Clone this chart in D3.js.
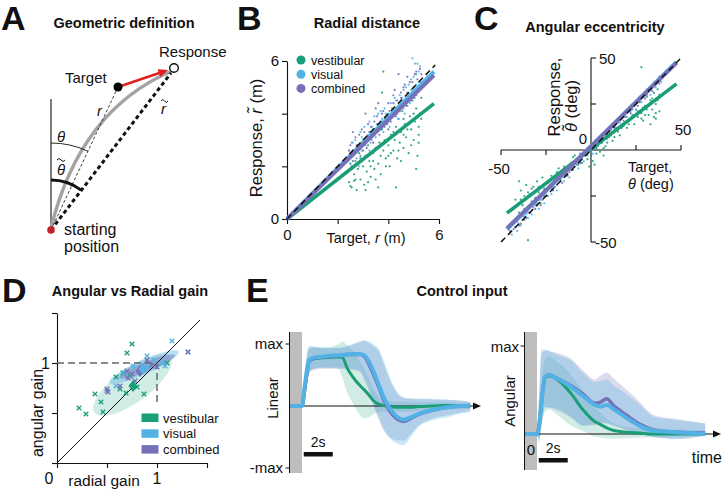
<!DOCTYPE html>
<html><head><meta charset="utf-8">
<script src="https://cdn.jsdelivr.net/npm/d3@7"></script>
<style>
body{margin:0;background:#fff}
text{font-family:"Liberation Sans",Arial,sans-serif;fill:#111}
.ttl{font-weight:bold;font-size:14.5px}
.lab{font-weight:bold;font-size:34px}
</style>
</head><body>
<svg id="c" width="723" height="491"></svg>
<script>
// ---------- colours ----------
const C_VEST = "#1a9e77", C_VIS = "#52b2e6", C_COMB = "#7570b8";
const seriesNames = ["vestibular","visual","combined"];
const seriesColors = [C_VEST, C_VIS, C_COMB];

// ---------- Panel A (schematic geometry, metres) ----------
const aStart = [0,0], aTarget = [1.675,3.575], aResp = [3.075,4.05], aCtrl = [0.725,3.0], aVertTop = 3.275;

// ---------- Panel B : radial distance ----------
const bTicks = [0,2,4,6];
const bSlopes = [0.755, 0.965, 0.94];
const bVest = [[2.45,1.4],[2.5,2.1],[2.55,1.2],[2.6,2.6],[2.65,1.7],[2.7,2.2],[2.75,1.1],[2.8,1.9],[2.85,2.5],[2.9,1.5],[2.95,2.9],[3.0,2.0],[3.05,1.3],[3.1,2.4],[3.15,1.8],[3.2,2.8],[3.25,2.2],[3.3,1.6],[3.35,3.1],[3.4,2.5],[3.45,1.9],[3.5,2.7],[3.55,3.3],[3.6,2.1],[3.65,2.9],[3.7,1.7],[3.75,3.4],[3.8,2.6],[3.85,3.0],[3.9,2.3],[3.95,3.6],[4.0,2.8],[4.05,2.0],[4.1,3.2],[4.15,3.9],[4.2,2.6],[4.25,3.0],[4.3,3.5],[4.35,2.3],[4.4,3.8],[4.45,2.9],[4.5,3.3],[4.55,4.1],[4.6,2.7],[4.65,3.6],[4.7,3.1],[4.75,4.3],[4.8,2.5],[4.85,3.9],[4.9,3.4],[4.95,4.5],[5.0,3.0],[5.05,3.7],[5.1,4.2],[5.15,2.4],[5.2,3.5],[5.25,4.0],[5.3,4.6],[5.1,1.9],[3.8,5.6],[3.75,4.8],[3.6,1.2],[4.3,1.2],[2.5,1.25],[2.65,1.45],[3.1,1.1],[3.3,2.0],[4.0,2.4],[4.6,3.2],[5.2,2.9],
  [2.4,1.8],[2.7,1.5],[2.9,2.3],[3.2,1.4],[3.4,2.2],[3.5,1.5],[3.7,2.4],[3.9,2.0],[4.1,2.5],[4.2,3.3],[4.4,2.6],[4.6,3.8],[4.75,3.4],[4.9,2.8],[5.0,4.0],[5.2,3.2],[5.3,3.8],[4.5,2.2],[3.0,2.6],[2.55,1.9]];
const bVis = [[2.45,2.6],[2.5,2.1],[2.55,2.9],[2.6,2.4],[2.7,3.0],[2.75,2.3],[2.8,2.8],[2.9,3.3],[2.95,2.6],[3.0,3.0],[3.05,3.5],[3.1,2.8],[3.2,3.2],[3.25,3.7],[3.3,2.9],[3.4,3.4],[3.45,3.9],[3.5,3.1],[3.55,3.6],[3.6,4.0],[3.7,3.4],[3.75,3.8],[3.8,3.3],[3.85,4.2],[3.9,3.7],[4.0,4.0],[4.05,3.5],[4.1,4.4],[4.2,3.9],[4.25,4.6],[4.3,4.1],[4.4,3.8],[4.45,4.7],[4.5,4.3],[4.6,4.9],[4.65,4.0],[4.7,4.6],[4.8,5.1],[4.85,4.4],[4.9,4.9],[5.0,5.4],[5.05,4.6],[5.1,5.1],[5.2,5.6],[4.95,6.1],[5.15,5.9],[3.35,3.0],[2.85,2.0],
  [2.4,2.2],[2.6,2.9],[2.75,2.6],[2.95,3.1],[3.15,3.0],[3.3,3.5],[3.45,3.2],[3.6,3.6],[3.7,4.1],[3.9,4.0],[4.0,3.7],[4.15,4.0],[4.3,4.5],[4.4,4.3],[4.55,4.6],[4.7,5.0],[4.8,4.6],[4.9,5.3],[5.0,4.8],[5.1,5.5],[5.2,5.2],[5.25,5.8],[3.25,2.6],[4.6,4.2],[5.05,5.9]];
const bComb = [[2.4,2.3],[2.5,2.8],[2.55,2.0],[2.65,2.5],[2.7,3.1],[2.8,2.6],[2.85,3.2],[2.9,2.4],[3.0,2.8],[3.05,3.3],[3.15,2.7],[3.2,3.6],[3.3,3.1],[3.35,3.5],[3.4,2.9],[3.5,3.4],[3.55,3.9],[3.65,3.2],[3.7,3.7],[3.8,4.1],[3.85,3.5],[3.95,3.9],[4.0,4.4],[4.1,3.7],[4.15,4.2],[4.2,4.7],[4.3,3.9],[4.35,4.5],[4.45,4.1],[4.5,4.8],[4.55,4.4],[4.65,5.1],[4.7,4.3],[4.75,4.8],[4.85,5.2],[4.9,4.5],[5.0,5.0],[5.05,5.5],[5.1,4.7],[5.15,5.3],[5.2,4.9],[5.25,5.7],[5.3,5.2],[3.1,4.0],[4.4,5.5],[2.6,3.3],[3.6,4.4],
  [2.45,2.6],[2.6,2.2],[2.75,2.8],[2.95,3.4],[3.1,3.0],[3.25,3.3],[3.45,3.7],[3.6,3.4],[3.75,4.0],[3.9,3.6],[4.05,4.1],[4.2,4.4],[4.35,4.0],[4.5,4.6],[4.6,5.0],[4.8,4.7],[4.95,5.2],[5.1,5.6],[5.25,5.0],[5.3,5.5],[3.5,4.2],[4.0,3.4],[4.25,4.9],[4.75,5.4],[5.0,4.6]];

// ---------- Panel C : angular eccentricity ----------
const cTicks = [-50,-25,25,50];
const cSlopes = [0.745, 0.965, 0.955];
const cIntercepts = [0.5, 2, 2];
const cVest = [[-42,-27],[-40,-34],[-39,-22],[-38,-30],[-37,-25],[-36,-19],[-35,-31],[-34,-24],[-33,-28],[-32,-20],[-31,-26],[-30,-17],[-29,-23],[-28,-29],[-27,-15],[-26,-21],[-24,-18],[-22,-14],[-21,-20],[-19,-12],[-17,-16],[-15,-9],[-12,-11],[-10,-4],[-8,-8],[-6,-2],[-5,-7],[-3,-1],[-2,-5],[-1,2],[0,-3],[1,-6],[2,0],[3,-2],[4,3],[5,-1],[6,4],[8,2],[10,7],[12,5],[14,11],[16,8],[18,13],[20,12],[22,17],[24,14],[25,22],[26,18],[27,26],[28,20],[29,16],[30,24],[31,29],[32,19],[33,27],[34,22],[35,31],[36,25],[37,33],[38,21],[28,45],[-35,-49],[-1,-9],[2,-8],[7,-3],[33,14],[36,17],[-40,-17],
  [-41,-30],[-39,-27],[-37,-32],[-35,-23],[-33,-21],[-31,-29],[-29,-20],[-26,-25],[-23,-17],[-20,-16],[-18,-10],[-14,-12],[-11,-7],[-9,-3],[-7,-5],[-4,-3],[-2,1],[1,3],[3,1],[5,5],[7,1],[9,4],[11,8],[13,7],[15,10],[17,12],[19,15],[21,14],[23,19],[26,21],[28,17],[30,19],[32,24],[34,28],[36,20],[37,27],[38,30],[35,18],[31,22],[29,23]];
const cVis = [[-44,-46],[-43,-40],[-41,-44],[-40,-37],[-39,-41],[-37,-36],[-35,-37],[-34,-31],[-33,-35],[-30,-29],[-29,-32],[-27,-25],[-26,-29],[-24,-21],[-22,-24],[-20,-18],[-19,-22],[-17,-14],[-15,-17],[-13,-11],[-12,-15],[-9,-7],[-7,-10],[-5,-3],[-4,-6],[-1,1],[1,-2],[3,5],[4,2],[7,9],[9,6],[11,13],[12,10],[15,17],[17,14],[19,21],[20,18],[23,25],[25,22],[27,29],[28,26],[31,33],[33,30],[35,37],[36,34],[38,40],[39,37],
  [-42,-42],[-38,-38],[-36,-35],[-31,-30],[-28,-27],[-25,-25],[-21,-20],[-16,-15],[-14,-14],[-10,-10],[-8,-7],[-6,-6],[-2,-2],[0,0],[2,1],[5,5],[6,7],[8,8],[10,10],[13,14],[16,15],[18,18],[21,22],[22,21],[24,24],[26,27],[29,29],[30,31],[32,32],[34,34],[37,38]];
const cComb = [[-45,-44],[-42,-42],[-41,-39],[-39,-40],[-38,-36],[-36,-37],[-34,-34],[-33,-30],[-31,-32],[-29,-27],[-28,-30],[-26,-24],[-24,-25],[-23,-20],[-21,-22],[-19,-19],[-18,-16],[-16,-18],[-14,-13],[-12,-12],[-10,-11],[-8,-6],[-6,-7],[-4,-3],[-2,-3],[0,1],[2,0],[4,5],[6,4],[8,9],[10,8],[12,13],[14,12],[16,17],[18,16],[20,21],[22,20],[24,25],[26,24],[28,29],[30,28],[32,33],[34,32],[35,35],[37,38],[38,36],
  [-43,-43],[-40,-41],[-37,-38],[-35,-34],[-32,-31],[-30,-30],[-27,-27],[-25,-23],[-22,-21],[-20,-20],[-17,-17],[-15,-14],[-13,-14],[-11,-9],[-9,-9],[-7,-8],[-5,-5],[-3,-2],[-1,-1],[1,2],[3,3],[5,6],[7,6],[9,10],[11,11],[13,12],[15,15],[17,18],[19,18],[21,21],[23,22],[25,26],[27,27],[29,30],[31,30],[33,34],[36,36]];

// ---------- Panel D : angular vs radial gain ----------
const dTicks = [0,0.5,1,1.5];
const dVest = [[0.22,0.55],[0.29,0.49],[0.38,0.69],[0.44,0.61],[0.46,0.51],[0.59,0.86],[0.63,0.74],[0.69,0.70],[0.70,1.10],[0.75,1.19],[0.80,0.76],[0.87,0.69],[1.10,1.00],[0.73,0.87],[0.66,0.90]];
const dVis = [[1.15,1.22],[0.90,1.07],[0.76,0.97],[0.67,0.90],[0.59,0.77],[1.05,1.00],[1.08,0.97],[0.97,1.03],[0.50,0.72],[0.91,0.96],[1.31,1.11]];
const dComb = [[1.31,1.11],[0.50,0.74],[0.51,0.71],[0.70,0.92],[0.75,0.89],[0.71,0.85],[0.78,0.82],[0.63,0.77],[0.90,1.03],[1.00,0.96],[0.95,0.98]];
const dMeans = [[0.76,0.77],[0.86,0.94],[0.83,0.92]];
const dEllCenter = [[0.755,0.78],[0.87,0.96],[0.9,0.965]];
const dEllRadii = [[0.47,0.17],[0.38,0.07],[0.30,0.05]];
const dEllAngle = [36,24,22];

// ---------- Panel E : control input ----------
const tLin = [-0.8,0,0.2,0.5,0.8,1.5,2.5,2.8,3.1,3.5,4.0,4.3,4.6,5.0,5.3,5.6,6.0,6.5,7.0,7.5,8.0,9.0,10.0,11.0,11.6];
const linVis  = [0,0,0.35,0.74,0.78,0.80,0.82,0.82,0.83,0.84,0.84,0.82,0.72,0.52,0.34,0.16,-0.02,-0.16,-0.22,-0.18,-0.13,-0.06,-0.02,0.0,0.01];
const linComb = [0,0,0.30,0.72,0.77,0.79,0.81,0.82,0.83,0.83,0.83,0.80,0.68,0.47,0.30,0.12,-0.06,-0.20,-0.25,-0.20,-0.14,-0.07,-0.02,0.0,0.01];
const linVest = [0,0,0.30,0.72,0.76,0.78,0.79,0.78,0.62,0.47,0.33,0.26,0.18,0.07,0.03,0.01,-0.01,-0.02,-0.02,-0.02,-0.01,0,0.01,0,0];
const linVisHi  = [0,0.03,0.6,0.97,0.96,0.95,0.94,0.95,0.97,1.0,1.05,1.06,1.04,0.98,0.92,0.75,0.5,0.25,0.14,0.12,0.12,0.11,0.1,0.08,0.06];
const linVisLo  = [0,-0.03,0.1,0.55,0.6,0.62,0.62,0.62,0.61,0.6,0.58,0.45,0.3,0.0,-0.18,-0.35,-0.5,-0.6,-0.63,-0.5,-0.35,-0.23,-0.18,-0.12,-0.1];
const linCombHi = [0,0.03,0.55,0.93,0.94,0.93,0.93,0.94,0.96,0.99,1.03,1.05,1.02,0.95,0.88,0.7,0.45,0.22,0.13,0.12,0.11,0.11,0.1,0.09,0.07];
const linCombLo = [0,-0.03,0.08,0.52,0.58,0.6,0.6,0.6,0.6,0.58,0.55,0.42,0.25,-0.05,-0.22,-0.38,-0.5,-0.55,-0.56,-0.45,-0.32,-0.2,-0.15,-0.1,-0.08];
const linVestHi = [0,0.02,0.5,0.92,0.95,0.93,1.0,1.04,0.98,0.9,0.72,0.6,0.45,0.25,0.15,0.1,0.08,0.07,0.07,0.06,0.06,0.06,0.06,0.05,0.05];
const linVestLo = [0,-0.02,0.1,0.55,0.6,0.62,0.6,0.45,0.22,0.05,-0.15,-0.2,-0.18,-0.12,-0.1,-0.09,-0.09,-0.09,-0.1,-0.09,-0.08,-0.07,-0.06,-0.05,-0.05];

const tAng = [-0.8,0,0.15,0.3,0.55,0.8,1.4,2.3,3.2,4.0,4.35,4.8,5.3,6.2,7.1,8.0,9.6,11.6];
const angVis  = [0,0,0.1,0.35,0.65,0.67,0.63,0.54,0.43,0.33,0.31,0.33,0.28,0.18,0.09,0.04,0.02,0];
const angComb = [0,0,0.1,0.34,0.64,0.67,0.63,0.55,0.45,0.35,0.36,0.40,0.32,0.21,0.11,0.05,0.02,0.01];
const angVest = [0,0,0.1,0.35,0.65,0.66,0.62,0.47,0.27,0.14,0.11,0.07,0.04,0.02,0.01,0,0,0];
const angVisHi  = [0,0.02,0.5,0.96,0.96,0.95,0.9,0.84,0.69,0.59,0.6,0.62,0.55,0.45,0.33,0.2,0.16,0.12];
const angVisLo  = [0,-0.02,-0.1,0.09,0.31,0.3,0.29,0.2,0.09,0.12,0.14,0.13,0.1,0.05,0.0,-0.03,-0.06,-0.02];
const angCombHi = [0,0.02,0.45,0.9,0.95,0.94,0.92,0.86,0.72,0.62,0.66,0.7,0.63,0.5,0.36,0.22,0.17,0.12];
const angCombLo = [0,-0.02,-0.05,0.1,0.3,0.3,0.27,0.19,0.1,0.1,0.12,0.12,0.09,0.04,0.0,-0.03,-0.05,-0.02];
const angVestHi = [0,0.02,0.3,0.6,0.85,0.88,0.82,0.68,0.48,0.3,0.25,0.18,0.12,0.08,0.06,0.05,0.05,0.04];
const angVestLo = [0,-0.02,-0.05,0.1,0.25,0.28,0.22,0.1,0.03,-0.03,-0.04,-0.05,-0.05,-0.05,-0.04,-0.04,-0.03,-0.02];

// =====================================================
const svg = d3.select("#c");
svg.append("rect").attr("width",723).attr("height",491).attr("fill","#fff");

function T(x,y,s,o={}){
  const t = svg.append("text").attr("x",x).attr("y",y).text(s)
    .attr("font-size",o.size||14).attr("text-anchor",o.anchor||"start");
  if(o.bold) t.attr("font-weight","bold");
  if(o.italic) t.attr("font-style","italic");
  if(o.rot) t.attr("x",0).attr("y",0).attr("transform",`translate(${x},${y}) rotate(${o.rot})`);
  if(o.cls) t.attr("class",o.cls);
  return t;
}
function tilde(x,y,w){
  svg.append("path").attr("d",`M${x},${y+1}q${w/4},-3 ${w/2},0t${w/2},0`).attr("fill","none").attr("stroke","#111").attr("stroke-width",1);
}
function styleAxis(g, fs){
  g.selectAll("path,line").attr("stroke","#111").attr("stroke-width",1.1);
  g.selectAll("text").attr("font-size",fs).attr("fill","#111").attr("font-family","Liberation Sans, Arial, sans-serif");
}

// Panel letters & titles
T(1,30,"A",{cls:"lab"}); T(237,30,"B",{cls:"lab"}); T(474,30,"C",{cls:"lab"});
T(2,302,"D",{cls:"lab"}); T(246,302,"E",{cls:"lab"});
T(124,28,"Geometric definition",{cls:"ttl",anchor:"middle"});
T(367,28,"Radial distance",{cls:"ttl",anchor:"middle"});
T(595,32,"Angular eccentricity",{cls:"ttl",anchor:"middle"});
T(130,296,"Angular vs Radial gain",{cls:"ttl",anchor:"middle"});
T(462,296,"Control input",{cls:"ttl",anchor:"middle"});

// ================= Panel A =================
{
  const ax = d3.scaleLinear([0,1],[51,91]);
  const ay = d3.scaleLinear([0,1],[230,190]);
  const P = p => [ax(p[0]), ay(p[1])];
  const s=P(aStart), tg=P(aTarget), rs=P(aResp), cp=P(aCtrl);
  const g = svg.append("g");
  g.append("line").attr("x1",s[0]).attr("y1",s[1]).attr("x2",s[0]).attr("y2",ay(aVertTop)).attr("stroke","#111").attr("stroke-width",1.1);
  const gp = d3.path(); gp.moveTo(s[0],s[1]-2); gp.quadraticCurveTo(cp[0],cp[1],rs[0]-2,rs[1]+3);
  g.append("path").attr("d",gp.toString()).attr("fill","none").attr("stroke","#a3a3a3").attr("stroke-width",3.5);
  g.append("line").attr("x1",s[0]).attr("y1",s[1]).attr("x2",tg[0]).attr("y2",tg[1]).attr("stroke","#111").attr("stroke-width",0.8).attr("stroke-dasharray","3,2");
  g.append("line").attr("x1",s[0]).attr("y1",s[1]).attr("x2",rs[0]-3).attr("y2",rs[1]+5).attr("stroke","#111").attr("stroke-width",3).attr("stroke-dasharray","4,3");
  const angT = Math.atan2(tg[1]-s[1], tg[0]-s[0]);
  const angR = Math.atan2(rs[1]-s[1], rs[0]-s[0]);
  const a1 = d3.path(); a1.arc(s[0],s[1],87,-Math.PI/2,angT,false);
  g.append("path").attr("d",a1.toString()).attr("fill","none").attr("stroke","#111").attr("stroke-width",0.9);
  const a2 = d3.path(); a2.arc(s[0],s[1],50,-Math.PI/2,angR,false);
  g.append("path").attr("d",a2.toString()).attr("fill","none").attr("stroke","#111").attr("stroke-width",3);
  const dx = rs[0]-tg[0], dy = rs[1]-tg[1], L = Math.hypot(dx,dy), ux=dx/L, uy=dy/L;
  const tip = [rs[0]-ux*6, rs[1]-uy*6];
  g.append("line").attr("x1",tg[0]).attr("y1",tg[1]).attr("x2",tip[0]-ux*8).attr("y2",tip[1]-uy*8).attr("stroke","#e02020").attr("stroke-width",2.5);
  g.append("polygon").attr("points",[[tip[0],tip[1]],[tip[0]-ux*10-uy*4,tip[1]-uy*10+ux*4],[tip[0]-ux*10+uy*4,tip[1]-uy*10-ux*4]].map(p=>p.join(",")).join(" ")).attr("fill","#e02020");
  g.append("circle").attr("cx",tg[0]).attr("cy",tg[1]).attr("r",4.5).attr("fill","#000");
  g.append("circle").attr("cx",rs[0]).attr("cy",rs[1]).attr("r",4.3).attr("fill","#fff").attr("stroke","#111").attr("stroke-width",1.4);
  g.append("circle").attr("cx",s[0]).attr("cy",s[1]).attr("r",3.8).attr("fill","#c4212d");
  T(65,83,"Target",{size:15});
  T(159,57,"Response",{size:15});
  T(97,116,"r",{size:15,italic:true});
  T(161,114,"r",{size:15,italic:true});
  tilde(161,100,7);
  T(57,142,"θ",{size:15,italic:true});
  T(57,175,"θ",{size:15,italic:true});
  tilde(57,159,8);
  T(64,235,"starting",{size:16});
  T(64,252,"position",{size:16});
}

// ================= Panel B =================
{
  const x = d3.scaleLinear([0,6],[287,439]);
  const y = d3.scaleLinear([0,6],[219,61]);
  const gx = svg.append("g").attr("transform","translate(0,219)")
    .call(d3.axisBottom(x).tickValues(bTicks).tickSize(5).tickSizeOuter(0).tickPadding(5).tickFormat(d=>(d===0||d===6)?d:""));
  const gy = svg.append("g").attr("transform","translate(287,0)")
    .call(d3.axisLeft(y).tickValues(bTicks).tickSize(5).tickSizeOuter(0).tickPadding(3).tickFormat(d=>(d===0||d===6)?d:""));
  styleAxis(gx,15); styleAxis(gy,15);
  const pts = [bVest,bVis,bComb];
  pts.forEach((arr,i)=>{
    svg.append("g").selectAll("circle").data(arr).join("circle")
      .attr("cx",d=>x(d[0])).attr("cy",d=>y(d[1])).attr("r",1.1).attr("fill",seriesColors[i]).attr("opacity",0.9);
  });
  const line = d3.line().x(d=>x(d[0])).y(d=>y(d[1]));
  const xr = [0,5.8];
  bSlopes.forEach((m,i)=>{
    svg.append("path").attr("d",line(xr.map(v=>[v,m*v]))).attr("stroke",seriesColors[i]).attr("stroke-width",i===0?3.5:4).attr("fill","none");
  });
  svg.append("path").attr("d",line([[0,0],[5.85,5.85]])).attr("stroke","#111").attr("stroke-width",1.5).attr("stroke-dasharray","6,4").attr("fill","none");
  seriesNames.forEach((n,i)=>{
    const yy = 60 + i*14.2;
    svg.append("circle").attr("cx",301).attr("cy",yy).attr("r",4.5).attr("fill",seriesColors[i]);
    T(311,yy+4.5,n,{size:12.5});
  });
  const yl = svg.append("text").attr("transform","translate(262,138) rotate(-90)").attr("text-anchor","middle").attr("font-size",16.5);
  yl.append("tspan").text("Response, ");
  yl.append("tspan").attr("font-style","italic").text("r\u0303");
  yl.append("tspan").text(" (m)");
  const xl = svg.append("text").attr("x",366).attr("y",243).attr("text-anchor","middle").attr("font-size",14.5);
  xl.append("tspan").text("Target, ");
  xl.append("tspan").attr("font-style","italic").text("r");
  xl.append("tspan").text(" (m)");
}

// ================= Panel C =================
{
  const x = d3.scaleLinear([-50,50],[501,681]);
  const y = d3.scaleLinear([-50,50],[242,58]);
  const g = svg.append("g");
  g.append("line").attr("x1",x(-50)).attr("x2",x(50)).attr("y1",y(0)).attr("y2",y(0)).attr("stroke","#111").attr("stroke-width",1.1);
  g.append("line").attr("x1",x(0)).attr("x2",x(0)).attr("y1",y(-50)).attr("y2",y(50)).attr("stroke","#111").attr("stroke-width",1.1);
  cTicks.forEach(v=>{
    g.append("line").attr("x1",x(v)).attr("x2",x(v)).attr("y1",y(0)).attr("y2",y(0)+(v<0?5:-5)).attr("stroke","#111").attr("stroke-width",1.1);
    g.append("line").attr("x1",x(0)).attr("x2",x(0)+5).attr("y1",y(v)).attr("y2",y(v)).attr("stroke","#111").attr("stroke-width",1.1);
  });
  const pts = [cVest,cVis,cComb];
  pts.forEach((arr,i)=>{
    svg.append("g").selectAll("circle").data(arr).join("circle")
      .attr("cx",d=>x(d[0])).attr("cy",d=>y(d[1])).attr("r",1.1).attr("fill",seriesColors[i]).attr("opacity",0.9);
  });
  const line = d3.line().x(d=>x(d[0])).y(d=>y(d[1]));
  const xr = [-46.7,47.5];
  cSlopes.forEach((m,i)=>{
    svg.append("path").attr("d",line(xr.map(v=>[v,m*v+cIntercepts[i]]))).attr("stroke",seriesColors[i]).attr("stroke-width",i===0?3.5:4).attr("fill","none");
  });
  svg.append("path").attr("d",line([[-50,-50],[51,51]])).attr("stroke","#111").attr("stroke-width",1.5).attr("stroke-dasharray","6,4").attr("fill","none");
  T(x(0)+8,y(50)+6,"50",{size:15});
  T(x(0)+4,y(-50)+6,"-50",{size:15});
  T(x(0)-4,y(0)-6,"0",{size:15,anchor:"end"});
  T(x(50)+2,y(0)-15,"50",{size:15,anchor:"middle"});
  T(x(-50)-2,y(0)+24,"-50",{size:15,anchor:"middle"});
  T(560,97,"Response,",{size:16.5,rot:-90,anchor:"middle"});
  const yl = svg.append("text").attr("transform","translate(577,106) rotate(-90)").attr("text-anchor","middle").attr("font-size",16.5);
  yl.append("tspan").attr("font-style","italic").text("θ\u0303");
  yl.append("tspan").text(" (deg)");
  T(628,172,"Target,",{size:14.5});
  const xl = svg.append("text").attr("x",628).attr("y",189).attr("font-size",14.5);
  xl.append("tspan").attr("font-style","italic").text("θ");
  xl.append("tspan").text(" (deg)");
}

// ================= Panel D =================
{
  const x = d3.scaleLinear([0,1.5],[57,207]);
  const y = d3.scaleLinear([0,1.5],[463,313]);
  const gx = svg.append("g").attr("transform","translate(0,463)").call(d3.axisBottom(x).tickValues(dTicks).tickSize(5).tickSizeOuter(0).tickFormat(""));
  const gy = svg.append("g").attr("transform","translate(57,0)").call(d3.axisLeft(y).tickValues(dTicks).tickSize(5).tickSizeOuter(0).tickFormat(""));
  styleAxis(gx,15); styleAxis(gy,15);
  const ellOp = [0.2,0.4,0.45];
  [0,1,2].forEach(i=>{
    const [cx,cy]=dEllCenter[i], [rx,ry]=dEllRadii[i], a=dEllAngle[i]*Math.PI/180;
    const ptsE = d3.range(0,64).map(k=>{const u=k/64*2*Math.PI; const ex=rx*Math.cos(u), ey=ry*Math.sin(u);
      return [x(cx+ex*Math.cos(a)-ey*Math.sin(a)), y(cy+ex*Math.sin(a)+ey*Math.cos(a))];});
    svg.append("path").attr("d",d3.line().curve(d3.curveLinearClosed)(ptsE)).attr("fill",seriesColors[i]).attr("opacity",ellOp[i]);
  });
  svg.append("line").attr("x1",x(0)).attr("y1",y(0)).attr("x2",x(1.43)).attr("y2",y(1.43)).attr("stroke","#111").attr("stroke-width",1);
  svg.append("path").attr("d",d3.line()([[x(0),y(1)],[x(1),y(1)],[x(1),y(0.6)]])).attr("fill","none").attr("stroke","#666").attr("stroke-width",1.5).attr("stroke-dasharray","7,4");
  [dVest,dVis,dComb].forEach((arr,i)=>{
    const gg = svg.append("g");
    arr.forEach(d=>{
      const px=x(d[0]), py=y(d[1]), h=2.3;
      gg.append("path").attr("d",`M${px-h},${py-h}L${px+h},${py+h}M${px-h},${py+h}L${px+h},${py-h}`).attr("stroke",seriesColors[i]).attr("stroke-width",1.3);
    });
  });
  [2,1,0].forEach(i=>{
    const px=x(dMeans[i][0]), py=y(dMeans[i][1]);
    svg.append("path").attr("d",`M${px},${py-6}L${px+4.5},${py}L${px},${py+6}L${px-4.5},${py}Z`).attr("fill",seriesColors[i]);
  });
  seriesNames.forEach((n,i)=>{
    const yy = 413.5 + i*15.8;
    svg.append("rect").attr("x",141.5).attr("y",yy).attr("width",17).attr("height",8.5).attr("fill",seriesColors[i]);
    T(163,yy+9,n,{size:13});
  });
  T(49,484,"0",{size:16,anchor:"middle"});
  T(x(1),484,"1",{size:16,anchor:"middle"});
  T(50,y(1)+6,"1",{size:16,anchor:"end"});
  T(43,413,"angular gain",{size:16,rot:-90,anchor:"middle"});
  T(104,486,"radial gain",{size:15.5,anchor:"middle"});
}

// ================= Panel E =================
function drawE(cfg){
  const x = d3.scaleLinear([0,1],[cfg.x0, cfg.x0+14.5]);
  const y = d3.scaleLinear([0,1],[cfg.y0, cfg.y0-cfg.unit]);
  svg.append("rect").attr("x",cfg.barX).attr("y",332).attr("width",12).attr("height",cfg.barH).attr("fill","#bdbdbd");
  svg.append("line").attr("x1",cfg.barX-0.5).attr("x2",cfg.barX-0.5).attr("y1",332).attr("y2",332+cfg.barH).attr("stroke","#111").attr("stroke-width",1);
  cfg.ticks.forEach(v=>{
    svg.append("line").attr("x1",cfg.barX-4.5).attr("x2",cfg.barX-0.5).attr("y1",y(v)).attr("y2",y(v)).attr("stroke","#111").attr("stroke-width",1);
  });
  const t = cfg.t;
  const area = d3.area().curve(d3.curveMonotoneX).x((d,i)=>x(t[i])).y0(d=>y(d[0])).y1(d=>y(d[1]));
  const bands = [[cfg.vestLo,cfg.vestHi,C_VEST,0.2],[cfg.combLo,cfg.combHi,C_COMB,0.25],[cfg.visLo,cfg.visHi,C_VIS,0.3]];
  bands.forEach(b=>{
    svg.append("path").attr("d",area(b[0].map((v,i)=>[v,b[1][i]]))).attr("fill",b[2]).attr("opacity",b[3]);
  });
  svg.append("line").attr("x1",cfg.barX+12).attr("x2",cfg.arrowX-6).attr("y1",cfg.y0).attr("y2",cfg.y0).attr("stroke","#111").attr("stroke-width",1);
  svg.append("polygon").attr("points",`${cfg.arrowX},${cfg.y0} ${cfg.arrowX-8},${cfg.y0-3.5} ${cfg.arrowX-8},${cfg.y0+3.5}`).attr("fill","#111");
  const line = d3.line().curve(d3.curveMonotoneX).x((d,i)=>x(t[i])).y(d=>y(d));
  svg.append("path").attr("d",line(cfg.vest)).attr("fill","none").attr("stroke",C_VEST).attr("stroke-width",3);
  svg.append("path").attr("d",line(cfg.comb)).attr("fill","none").attr("stroke",C_COMB).attr("stroke-width",3.5);
  svg.append("path").attr("d",line(cfg.vis)).attr("fill","none").attr("stroke",C_VIS).attr("stroke-width",4);
  svg.append("rect").attr("x",x(0.12)).attr("y",cfg.sbY).attr("width",x(2.12)-x(0.12)).attr("height",4.5).attr("fill","#111");
  T((x(0.12)+x(2.12))/2,cfg.sbY-5,"2s",{size:14,anchor:"middle"});
}
drawE({x0:302,y0:406,unit:62,barX:290,barH:141,arrowX:481,ticks:[1,-1],t:tLin,
  vis:linVis,comb:linComb,vest:linVest,visHi:linVisHi,visLo:linVisLo,combHi:linCombHi,combLo:linCombLo,vestHi:linVestHi,vestLo:linVestLo,sbY:452});
drawE({x0:537,y0:434,unit:88,barX:525,barH:138,arrowX:721,ticks:[1],t:tAng,
  vis:angVis,comb:angComb,vest:angVest,visHi:angVisHi,visLo:angVisLo,combHi:angCombHi,combLo:angCombLo,vestHi:angVestHi,vestLo:angVestLo,sbY:458});
T(283,349,"max",{size:15,anchor:"end"});
T(283,473,"-max",{size:15,anchor:"end"});
T(278,398,"Linear",{size:15,rot:-90,anchor:"middle"});
T(519,352,"max",{size:15,anchor:"end"});
T(515,401,"Angular",{size:15,rot:-90,anchor:"middle"});
T(531,455,"0",{size:15,anchor:"middle"});
T(722,463,"time",{size:16,anchor:"end"});
</script>
</body></html>
